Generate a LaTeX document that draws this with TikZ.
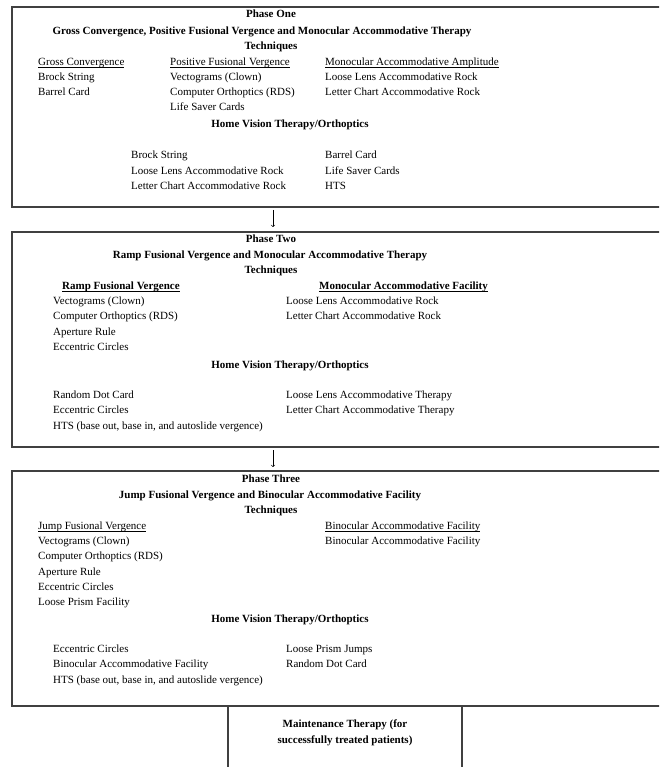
\documentclass[tikz,border=0pt]{standalone}
\usepackage{fontspec}
\setmainfont{Liberation Serif}
\usepackage{tikz}

\newcommand{\uline}[1]{\underline{\smash{#1}}\vphantom{g}}

\begin{document}
\begin{tikzpicture}
  [x=1pt,y=-1pt,every node/.style={inner sep=0pt,text height=8pt,text depth=2.5pt,font=\fontsize{11}{13}\selectfont},
   item/.style={anchor=west},
   head/.style={font=\fontsize{11}{13}\selectfont\bfseries},
   box/.style={draw=black!75,line width=1.2pt},
   link/.style={->,line width=0.6pt}]
  \useasboundingbox (0,0) rectangle (659,767);
  \clip (0,0) rectangle (659,767);

  % boxes
  \draw[box] (700,7) -- (12,7) -- (12,207) -- (700,207);
  \draw[box] (700,232) -- (12,232) -- (12,447) -- (700,447);
  \draw[box] (700,471) -- (12,471) -- (12,706) -- (700,706);
  \draw[box] (228,706) -- (228,780);
  \draw[box] (462,706) -- (462,780);

  % phase one
  \node[head] (p1) at (271,15) {Phase One};
  \node[head] (p1t) at (262,32) {Gross Convergence, Positive Fusional Vergence and Monocular Accommodative Therapy};
  \node[head] (p1k) at (271,47) {Techniques};
  \node[item] (p1a) at (38,63) {\uline{Gross Convergence}};
  \node[item] (p1b) at (170,63) {\uline{Positive Fusional Vergence}};
  \node[item] (p1c) at (325,63) {\uline{Monocular Accommodative Amplitude}};
  \foreach \y/\t [count=\i] in {78/Brock String,93/Barrel Card}
    \node[item] (p1a\i) at (38,\y) {\t};
  \foreach \y/\t [count=\i] in {78/Vectograms (Clown),93/Computer Orthoptics (RDS),108/Life Saver Cards}
    \node[item] (p1b\i) at (170,\y) {\t};
  \foreach \y/\t [count=\i] in {78/Loose Lens Accommodative Rock,93/Letter Chart Accommodative Rock}
    \node[item] (p1c\i) at (325,\y) {\t};
  \node[head] (p1h) at (290,125) {Home Vision Therapy/Orthoptics};
  \foreach \y/\t [count=\i] in {156/Brock String,172/Loose Lens Accommodative Rock,187/Letter Chart Accommodative Rock}
    \node[item] (p1d\i) at (131,\y) {\t};
  \foreach \y/\t [count=\i] in {156/Barrel Card,172/Life Saver Cards,187/HTS}
    \node[item] (p1e\i) at (325,\y) {\t};

  % phase two
  \node[head] (p2) at (271,240) {Phase Two};
  \node[head] (p2t) at (270,256) {Ramp Fusional Vergence and Monocular Accommodative Therapy};
  \node[head] (p2k) at (271,271) {Techniques};
  \node[head,item] (p2a) at (62,287) {\uline{Ramp Fusional Vergence}};
  \node[head,item] (p2b) at (319,287) {\uline{Monocular Accommodative Facility}};
  \foreach \y/\t [count=\i] in {302/Vectograms (Clown),317/Computer Orthoptics (RDS),333/Aperture Rule,348/Eccentric Circles}
    \node[item] (p2a\i) at (53,\y) {\t};
  \foreach \y/\t [count=\i] in {302/Loose Lens Accommodative Rock,317/Letter Chart Accommodative Rock}
    \node[item] (p2b\i) at (286,\y) {\t};
  \node[head] (p2h) at (290,366) {Home Vision Therapy/Orthoptics};
  \foreach \y/\t [count=\i] in {396/Random Dot Card,411/Eccentric Circles,427/{HTS (base out, base in, and autoslide vergence)}}
    \node[item] (p2d\i) at (53,\y) {\t};
  \foreach \y/\t [count=\i] in {396/Loose Lens Accommodative Therapy,411/Letter Chart Accommodative Therapy}
    \node[item] (p2e\i) at (286,\y) {\t};

  % phase three
  \node[head] (p3) at (271,480) {Phase Three};
  \node[head] (p3t) at (270,496) {Jump Fusional Vergence and Binocular Accommodative Facility};
  \node[head] (p3k) at (271,511) {Techniques};
  \node[item] (p3a) at (38,527) {\uline{Jump Fusional Vergence}};
  \node[item] (p3b) at (325,527) {\uline{Binocular Accommodative Facility}};
  \foreach \y/\t [count=\i] in {542/Vectograms (Clown),557/Computer Orthoptics (RDS),573/Aperture Rule,588/Eccentric Circles,603/Loose Prism Facility}
    \node[item] (p3a\i) at (38,\y) {\t};
  \node[item] (p3b1) at (325,542) {Binocular Accommodative Facility};
  \node[head] (p3h) at (290,620) {Home Vision Therapy/Orthoptics};
  \foreach \y/\t [count=\i] in {650/Eccentric Circles,665/Binocular Accommodative Facility,681/{HTS (base out, base in, and autoslide vergence)}}
    \node[item] (p3d\i) at (53,\y) {\t};
  \foreach \y/\t [count=\i] in {650/Loose Prism Jumps,665/Random Dot Card}
    \node[item] (p3e\i) at (286,\y) {\t};

  % maintenance
  \node[head] (mt1) at (345,725) {Maintenance Therapy (for};
  \node[head] (mt2) at (345,741) {successfully treated patients)};

  % arrows
  \coordinate (a1) at (273,210);
  \coordinate (b1) at (273,227);
  \coordinate (a2) at (273,450);
  \coordinate (b2) at (273,467);
  \draw[link] (a1) -- (b1);
  \draw[link] (a2) -- (b2);
\end{tikzpicture}
\end{document}
